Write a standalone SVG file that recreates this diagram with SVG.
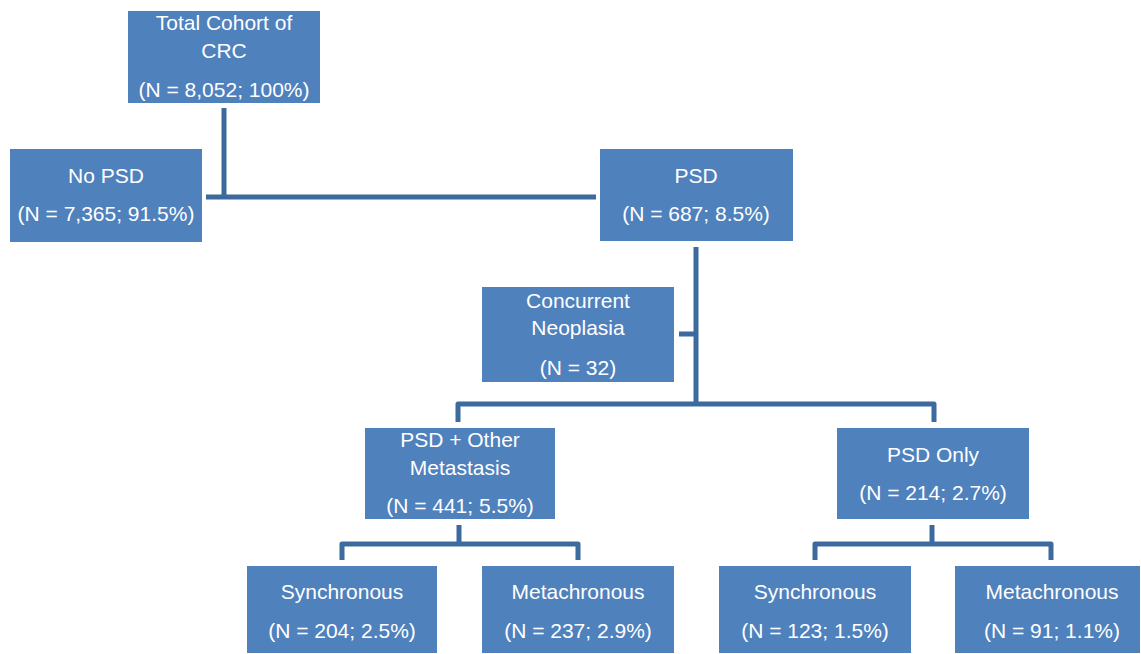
<svg xmlns="http://www.w3.org/2000/svg" width="1141" height="654" viewBox="0 0 1141 654">
<style>
.box{fill:#4F81BD}
.t{font-family:"Liberation Sans",Arial,sans-serif;font-size:21px;fill:#FFFFFF;text-anchor:middle}
.c{fill:none;stroke:#3D6A9E;stroke-width:5;stroke-linejoin:round}
</style>
<rect width="1141" height="654" fill="#FFFFFF"/>
<g id="connectors">
<path class="c" d="M224,108 V197"/>
<path class="c" d="M206,197 H596"/>
<path class="c" d="M696,247 V404"/>
<path class="c" d="M679,334 H696"/>
<path class="c" d="M458,422 V404 H934 V422"/>
<path class="c" d="M459,525 V544"/>
<path class="c" d="M342,560 V544 H578 V560"/>
<path class="c" d="M932,525 V544"/>
<path class="c" d="M815,560 V544 H1051 V560"/>
</g>
<g id="total">
<rect class="box" x="128" y="11" width="192" height="92"/>
<text class="t" x="224" y="30">Total Cohort of</text>
<text class="t" x="224" y="58">CRC</text>
<text class="t" x="224" y="97">(N = 8,052; 100%)</text>
</g>
<g id="nopsd">
<rect class="box" x="10" y="149" width="192" height="93"/>
<text class="t" x="106" y="183">No PSD</text>
<text class="t" x="106" y="221">(N = 7,365; 91.5%)</text>
</g>
<g id="psd">
<rect class="box" x="600" y="149" width="193" height="92"/>
<text class="t" x="696" y="183">PSD</text>
<text class="t" x="696" y="221">(N = 687; 8.5%)</text>
</g>
<g id="concurrent">
<rect class="box" x="482" y="287" width="192" height="95"/>
<text class="t" x="578" y="308">Concurrent</text>
<text class="t" x="578" y="335">Neoplasia</text>
<text class="t" x="578" y="375">(N = 32)</text>
</g>
<g id="psdother">
<rect class="box" x="365" y="428" width="190" height="91"/>
<text class="t" x="460" y="447">PSD + Other</text>
<text class="t" x="460" y="475">Metastasis</text>
<text class="t" x="460" y="513">(N = 441; 5.5%)</text>
</g>
<g id="psdonly">
<rect class="box" x="837" y="428" width="192" height="91"/>
<text class="t" x="933" y="462">PSD Only</text>
<text class="t" x="933" y="500">(N = 214; 2.7%)</text>
</g>
<g id="sync1">
<rect class="box" x="247" y="566" width="190" height="87"/>
<text class="t" x="342" y="599">Synchronous</text>
<text class="t" x="342" y="638">(N = 204; 2.5%)</text>
</g>
<g id="meta1">
<rect class="box" x="482" y="566" width="192" height="87"/>
<text class="t" x="578" y="599">Metachronous</text>
<text class="t" x="578" y="638">(N = 237; 2.9%)</text>
</g>
<g id="sync2">
<rect class="box" x="719" y="566" width="192" height="87"/>
<text class="t" x="815" y="599">Synchronous</text>
<text class="t" x="815" y="638">(N = 123; 1.5%)</text>
</g>
<g id="meta2">
<rect class="box" x="955" y="566" width="185" height="87"/>
<text class="t" x="1052" y="599">Metachronous</text>
<text class="t" x="1052" y="638">(N = 91; 1.1%)</text>
</g>
</svg>
